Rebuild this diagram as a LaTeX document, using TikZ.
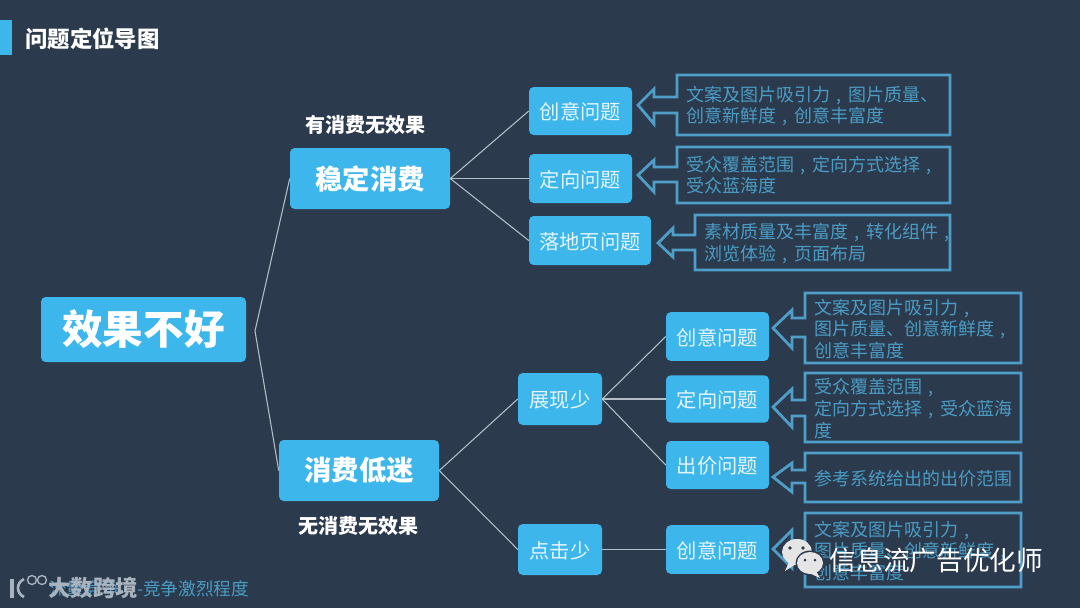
\documentclass[tikz,border=0pt]{standalone}
\usepackage{fontspec}
\setmainfont{Noto Sans CJK SC}
\definecolor{bgc}{HTML}{2C3A4D}
\definecolor{nodefill}{HTML}{3DB6EC}
\definecolor{calloutc}{HTML}{4F9EC8}
\definecolor{calltext}{HTML}{4A9CC4}
\definecolor{linkc}{HTML}{B4BEC6}
\definecolor{nodetxt}{HTML}{E4F6FC}
\definecolor{markc}{HTML}{A8B3BD}
\newcommand{\dou}{\makebox[1em][c]{,}}
% callout: name, x0, x1, y0, y1, arrow outline, text offset, text
\newcommand{\callout}[8]{%
  \draw[calloutline] (#2,#4) -- (#3,#4) -- (#3,#5) -- (#2,#5) -- #6 -- cycle;
  \node[calltxt] (#1) at (#2+9,{(#4+#5)/2+#7}) {#8};
}
\tikzset{
  topic/.style={fill=nodefill,rounded corners=3.5pt,inner sep=0pt,text=nodetxt,align=center},
  small/.style={topic,text height=16pt,text depth=2.6pt,font=\fontsize{15.2}{18}\selectfont},
  mid/.style={topic,font=\fontsize{20.5}{24}\bfseries\selectfont,text=white},
  calloutline/.style={draw=calloutc,line width=2.1pt,line join=miter},
  calltxt/.style={anchor=west,align=left,text=calltext,inner sep=0pt,font=\fontsize{13.5}{16.3}\selectfont},
  caption/.style={text=white,inner sep=0pt,font=\fontsize{15}{18}\bfseries\selectfont},
  link/.style={draw=linkc,line width=0.8pt},
}
\begin{document}
\begin{tikzpicture}[x=0.75pt,y=-0.75pt]
\useasboundingbox (0,0) rectangle (1080,608);
\fill[bgc] (0,0) rectangle (1080,608);
% title
\fill[nodefill] (0,20) rectangle (11.5,55);
\node[text=white,inner sep=0pt,font=\fontsize{16.8}{20}\bfseries\selectfont] (title) at (92.5,39) {问题定位导图};
% main nodes
\node[topic,minimum width=153.75pt,minimum height=48.75pt,text=white,font=\fontsize{30.4}{36}\bfseries\selectfont] (root) at (143.5,329.5) {效果不好};
\coordinate (fork) at (255,331);
\node[mid,minimum width=120pt,minimum height=45.75pt] (stable) at (370,178.5) {稳定消费};
\node[mid,minimum width=120pt,minimum height=45.75pt] (low) at (359,470.5) {消费低迷};
\node[caption] (cap1) at (365,125) {有消费无效果};
\node[caption] (cap2) at (358,526) {无消费无效果};
% upper branch
\node[small,minimum width=77.25pt,minimum height=36pt] (a1) at (580.5,111) {创意问题};
\node[small,minimum width=77.25pt,minimum height=36.75pt] (a2) at (580.5,178.5) {定向问题};
\node[small,minimum width=91.5pt,minimum height=36.75pt] (a3) at (590,240.5) {落地页问题};
% lower branch
\node[small,minimum width=63pt,minimum height=39pt] (show) at (560,399) {展现少};
\node[small,minimum width=63pt,minimum height=38.25pt] (click) at (560,549.5) {点击少};
\node[small,minimum width=77.25pt,minimum height=36.5pt] (b1) at (717.5,336.5) {创意问题};
\node[small,minimum width=77.25pt,minimum height=35.5pt] (b2) at (717.5,399) {定向问题};
\node[small,minimum width=77.25pt,minimum height=36pt] (b3) at (717.5,465) {出价问题};
\node[small,minimum width=77.25pt,minimum height=36.5pt] (b4) at (717.5,549.5) {创意问题};
% connectors
\draw[link] (fork) -- (stable.west);
\draw[link] (fork) -- (low.west);
\foreach \t in {a1,a2,a3} \draw[link] (stable.east) -- (\t.west);
\draw[link] (low.east) -- (show.west);
\draw[link] (low.east) -- (click.west);
\foreach \t in {b1,b2,b3} \draw[link] (show.east) -- (\t.west);
\draw[link] (click.east) -- (b4.west);
% callouts
\callout{c1}{677}{950}{75}{135}{(677,113) -- (654,113) -- (654,124) -- (638,105) -- (654,89) -- (654,97) -- (677,97)}{1}{文案及图片吸引力\dou 图片质量、\\创意新鲜度\dou 创意丰富度}
\callout{c2}{677}{950}{147}{203}{(677,182) -- (654,182) -- (654,192) -- (638,175) -- (654,160) -- (654,167) -- (677,167)}{0}{受众覆盖范围\dou 定向方式选择\dou\\受众蓝海度}
\callout{c3}{695}{950}{215}{270}{(695,250) -- (673,250) -- (673,257) -- (658,243) -- (673,228) -- (673,235) -- (695,235)}{1}{素材质量及丰富度\dou 转化组件\dou\\浏览体验\dou 页面布局}
\callout{c4}{805}{1021}{293}{363}{(805,337) -- (792,337) -- (792,348) -- (773,328) -- (792,310) -- (792,318) -- (805,318)}{1}{文案及图片吸引力\dou\\图片质量、创意新鲜度\dou\\创意丰富度}
\callout{c5}{805}{1021}{373}{442}{(805,416) -- (792,416) -- (792,427) -- (773,407) -- (792,389) -- (792,400) -- (805,400)}{1}{受众覆盖范围\dou\\定向方式选择\dou 受众蓝海\\度}
\callout{c6}{805}{1021}{453}{502}{(805,483) -- (792,483) -- (792,492) -- (773,477) -- (792,463) -- (792,470) -- (805,470)}{1}{参考系统给出的出价范围}
\callout{c7}{805}{1021}{513}{587}{(805,557) -- (792,557) -- (792,568) -- (773,549) -- (792,530) -- (792,541) -- (805,541)}{1}{文案及图片吸引力\dou\\图片质量、创意新鲜度\dou\\创意丰富度}
% wechat watermark
\fill[white!90!black] (797,552) ellipse [x radius=15,y radius=13];
\fill[white!90!black] (789,562) -- (785,571) -- (796,564) -- cycle;
\fill[bgc] (810,563) ellipse [x radius=14.5,y radius=12.5];
\fill[white!90!black] (810,563) ellipse [x radius=13,y radius=11];
\fill[white!90!black] (816,571) -- (820,578) -- (809,573) -- cycle;
\fill[bgc] (790,548) circle (1.8) (803,548) circle (1.8) (805,560) circle (1.5) (815,560) circle (1.5);
\node[text=white,inner sep=0pt,font=\fontsize{20}{24}\selectfont] (wm) at (936.5,560) {信息流广告优化师};
% lower left
\node[text=calltext,inner sep=0pt,anchor=west,font=\fontsize{13.2}{16}\selectfont] (hidden) at (49,589) {流量竞争\hspace{1em}-竞争激烈程度};
\draw[markc,line width=2.4pt] (12,578.5) -- (12,597.5);
\draw[markc,line width=2pt] (24,579) .. controls (16,583) and (16,593) .. (24,597);
\draw[markc,line width=1pt] (32,580) circle (4.5) (42,580) circle (4.5);
\node[text=markc,inner sep=0pt,font=\fontsize{16.8}{20}\bfseries\selectfont] (brand) at (93,588) {大数跨境};
\end{tikzpicture}
\end{document}
